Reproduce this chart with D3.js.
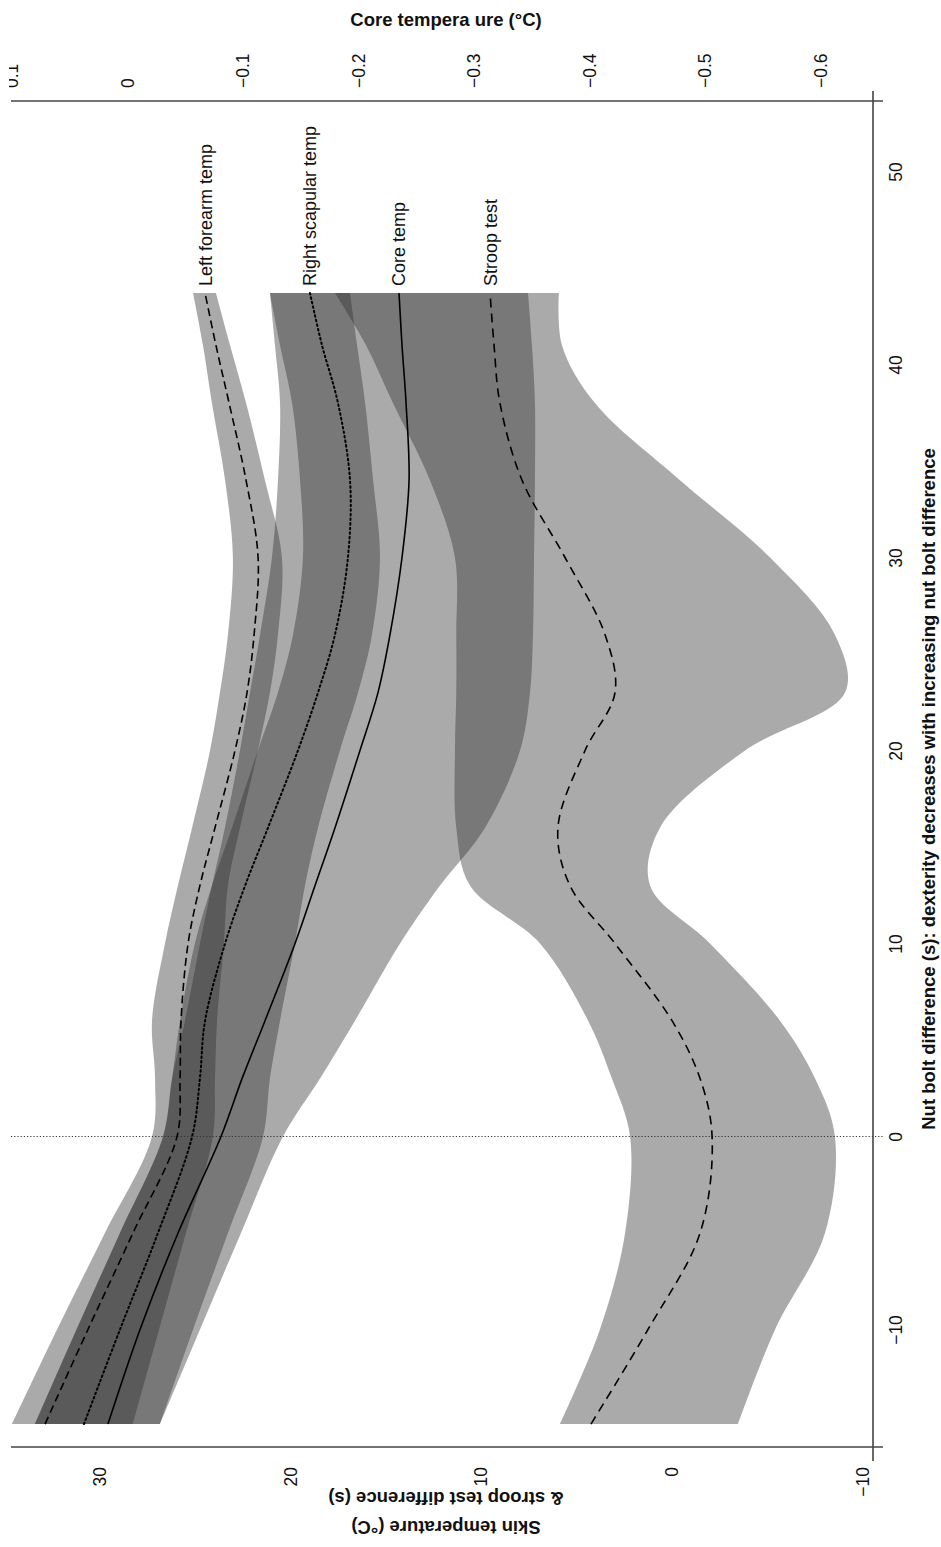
<!DOCTYPE html>
<html>
<head>
<meta charset="utf-8">
<script src="https://cdn.jsdelivr.net/npm/d3@7"></script>
<style>
  body { margin: 0; background: #fff; }
  svg { display: block; }
  text { font-family: "Liberation Sans", Arial, sans-serif; fill: #111; }
</style>
</head>
<body>
<svg id="chart" width="941" height="1547"></svg>
<script>
// Nut bolt difference (s) at which each smoothed curve is evaluated
const nutBolt = [-14.9, -10, -5, 0, 3, 6, 10, 13, 16, 20, 23, 26, 30, 34, 38, 41, 43.7];

// Left forearm skin temperature (°C): fit and band
const forearmFit = [32.83, 30.58, 28.22, 25.91, 25.75, 25.70, 25.33, 24.71, 23.92, 22.87, 22.24, 21.87, 21.66, 22.29, 23.18, 23.87, 24.44];
const forearmHi  = [34.56, 32.20, 29.69, 27.22, 27.06, 27.22, 26.54, 25.86, 25.12, 24.18, 23.66, 23.24, 22.98, 23.39, 24.08, 24.55, 25.07];
const forearmLo  = [28.22, 26.85, 25.44, 24.03, 23.92, 23.81, 23.45, 23.24, 22.61, 21.67, 21.04, 20.62, 20.41, 21.30, 22.29, 23.13, 23.87];

// Right scapular skin temperature (°C): fit and band
const scapularFit = [30.79, 28.90, 26.91, 25.12, 24.71, 24.44, 23.39, 22.34, 21.14, 19.57, 18.52, 17.63, 16.95, 16.84, 17.47, 18.31, 18.94];
const scapularHi  = [33.35, 31.18, 28.90, 26.64, 26.17, 25.75, 24.97, 24.08, 23.03, 21.67, 20.62, 19.83, 19.31, 19.46, 19.88, 20.51, 21.04];
const scapularLo  = [26.80, 25.07, 23.24, 21.40, 21.04, 20.51, 19.73, 19.20, 18.52, 17.37, 16.42, 15.69, 15.27, 15.63, 16.05, 16.47, 16.84];

// Core temperature change (°C): fit and band
const coreFit = [0.0165, -0.0113, -0.0442, -0.0814, -0.0996, -0.1195, -0.1455, -0.1628, -0.1801, -0.2017, -0.2173, -0.2277, -0.2381, -0.2442, -0.2416, -0.2381, -0.2355];
const coreHi  = [0.0797, 0.0437, 0.0061, -0.0312, -0.0390, -0.0502, -0.0632, -0.0736, -0.0848, -0.0978, -0.1065, -0.1152, -0.1255, -0.1307, -0.1325, -0.1281, -0.1238];
const coreLo  = [-0.0286, -0.0632, -0.0987, -0.1351, -0.1671, -0.1974, -0.2364, -0.2710, -0.3100, -0.3403, -0.3489, -0.3515, -0.3524, -0.3532, -0.3532, -0.3506, -0.3472];

// Stroop test difference (s): fit and band
const stroopFit = [4.21, 1.22, -1.51, -2.14, -1.51, -0.04, 2.95, 5.31, 5.94, 4.52, 2.95, 3.47, 5.57, 7.82, 8.98, 9.29, 9.50];
const stroopHi  = [5.83, 3.74, 2.42, 2.16, 3.11, 4.36, 6.88, 10.55, 11.27, 11.34, 11.27, 11.27, 11.34, 12.65, 14.59, 16.00, 17.63];
const stroopLo  = [-3.50, -5.44, -8.06, -8.58, -7.54, -5.70, -2.03, 1.11, 0.59, -3.87, -9.11, -8.58, -5.18, -0.46, 4.00, 5.73, 5.89];

// Axis ticks
const nutTicks = [-10, 0, 10, 20, 30, 40, 50];
const skinTicks = [30, 20, 10, 0, -10];
const coreTicks = [0.1, 0, -0.1, -0.2, -0.3, -0.4, -0.5, -0.6];

const seriesLabels = ["Left forearm temp", "Right scapular temp", "Core temp", "Stroop test"];

const svg = d3.select("#chart");

// Plot frame (the figure is laid out turned a quarter turn: nut bolt runs upward)
const plot = { left: 11, right: 873, top: 101, bottom: 1447 };

const yNut  = d3.scaleLinear().domain([-10, 50]).range([1329.5, 171.5]);
const xSkin = d3.scaleLinear().domain([30, -10]).range([99, 862]);
const xCore = d3.scaleLinear().domain([0, -0.6]).range([127, 820]);

const series = [
  { name: seriesLabels[0], x: xSkin, fit: forearmFit,  hi: forearmHi,  lo: forearmLo,  dash: "8,4.5" },
  { name: seriesLabels[1], x: xSkin, fit: scapularFit, hi: scapularHi, lo: scapularLo, dash: "1.6,3" },
  { name: seriesLabels[2], x: xCore, fit: coreFit,     hi: coreHi,     lo: coreLo,     dash: null },
  { name: seriesLabels[3], x: xSkin, fit: stroopFit,   hi: stroopHi,   lo: stroopLo,   dash: "9,6" }
];

const curve = d3.curveCatmullRom.alpha(0.5);

// Confidence bands
const bands = svg.append("g");
series.forEach(s => {
  const area = d3.area()
    .y((d, i) => yNut(nutBolt[i]))
    .x0((d, i) => s.x(s.hi[i]))
    .x1((d, i) => s.x(s.lo[i]))
    .curve(curve);
  bands.append("path")
    .datum(nutBolt)
    .attr("d", area)
    .attr("fill", "#303030")
    .attr("fill-opacity", 0.41);
});

// Reference line at zero nut bolt difference
svg.append("line")
  .attr("x1", plot.left).attr("x2", plot.right + 10)
  .attr("y1", yNut(0)).attr("y2", yNut(0))
  .attr("stroke", "#333").attr("stroke-width", 1)
  .attr("stroke-dasharray", "1.2,2");

// Fitted curves
const lines = svg.append("g");
series.forEach(s => {
  const line = d3.line()
    .y((d, i) => yNut(nutBolt[i]))
    .x((d, i) => s.x(s.fit[i]))
    .curve(curve);
  lines.append("path")
    .datum(nutBolt)
    .attr("d", line)
    .attr("fill", "none")
    .attr("stroke", "#000")
    .attr("stroke-width", s.dash === "1.6,3" ? 2 : 1.6)
    .attr("stroke-linecap", s.dash === "1.6,3" ? "round" : "butt")
    .attr("stroke-dasharray", s.dash);
});

// Curve labels at the upper end of each line
const last = nutBolt.length - 1;
series.forEach(s => {
  const x = s.x(s.fit[last]);
  const y = yNut(nutBolt[last]) - 7;
  svg.append("text")
    .attr("transform", `translate(${x},${y}) rotate(-90)`)
    .attr("dy", "0.36em")
    .attr("font-size", 18)
    .text(s.name);
});

// Axes
const axisColor = "#444";
const tickFont = 17.5;

// Core temperature axis (top)
svg.append("clipPath").attr("id", "topclip")
  .append("rect").attr("x", 9).attr("y", -plot.top).attr("width", 932).attr("height", plot.top);
const topAxis = svg.append("g").attr("transform", `translate(0,${plot.top})`)
  .attr("clip-path", "url(#topclip)")
  .call(d3.axisTop(xCore).tickValues(coreTicks).tickSize(0)
    .tickFormat(v => v === 0 ? "0" : d3.format(".1f")(v)));
topAxis.select(".domain").remove();
topAxis.selectAll(".tick text")
  .attr("font-size", tickFont)
  .attr("font-family", "Liberation Sans, Arial, sans-serif")
  .attr("fill", "#111")
  .attr("text-anchor", "start")
  .attr("transform", "rotate(-90)")
  .attr("x", 13).attr("y", 0).attr("dy", "0.36em");
svg.append("line")
  .attr("x1", plot.left).attr("x2", plot.right + 10)
  .attr("y1", plot.top).attr("y2", plot.top)
  .attr("stroke", axisColor).attr("stroke-width", 1.6);

// Skin temperature & stroop axis (bottom)
const botAxis = svg.append("g").attr("transform", `translate(0,${plot.bottom})`)
  .call(d3.axisBottom(xSkin).tickValues(skinTicks).tickSize(0));
botAxis.select(".domain").remove();
botAxis.selectAll(".tick text")
  .attr("font-size", tickFont)
  .attr("font-family", "Liberation Sans, Arial, sans-serif")
  .attr("fill", "#111")
  .attr("text-anchor", "end")
  .attr("transform", "rotate(-90)")
  .attr("x", -20).attr("y", 0).attr("dy", "0.36em");
svg.append("line")
  .attr("x1", plot.left).attr("x2", plot.right + 10)
  .attr("y1", plot.bottom).attr("y2", plot.bottom)
  .attr("stroke", axisColor).attr("stroke-width", 1.6);

// Nut bolt difference axis (right)
const rightAxis = svg.append("g").attr("transform", `translate(${plot.right},0)`)
  .call(d3.axisRight(yNut).tickValues(nutTicks).tickSize(0));
rightAxis.select(".domain").remove();
rightAxis.selectAll(".tick text")
  .attr("font-size", tickFont)
  .attr("font-family", "Liberation Sans, Arial, sans-serif")
  .attr("fill", "#111")
  .attr("text-anchor", "middle")
  .attr("transform", "rotate(-90)")
  .attr("x", 0).attr("y", 23).attr("dy", "0.36em");
svg.append("line")
  .attr("x1", plot.right).attr("x2", plot.right)
  .attr("y1", plot.top - 10).attr("y2", plot.bottom + 14)
  .attr("stroke", axisColor).attr("stroke-width", 1.6);

// Axis titles
svg.append("text")
  .attr("x", 446).attr("y", 26)
  .attr("text-anchor", "middle")
  .attr("font-size", 18.5).attr("font-weight", "bold")
  .text("Core tempera ure (°C)");

svg.append("text")
  .attr("transform", `translate(928,${(plot.top + plot.bottom) / 2 + 15}) rotate(-90)`)
  .attr("text-anchor", "middle")
  .attr("dy", "0.36em")
  .attr("font-size", 18.5).attr("font-weight", "bold")
  .text("Nut bolt difference (s): dexterity decreases with increasing nut bolt difference");

const leftTitle = svg.append("text")
  .attr("transform", `translate(446,1512) rotate(180)`)
  .attr("text-anchor", "middle")
  .attr("font-size", 18.5).attr("font-weight", "bold");
leftTitle.append("tspan").attr("x", 0).attr("dy", "-0.5em").text("Skin temperature (°C)");
leftTitle.append("tspan").attr("x", 0).attr("dy", "1.6em").text("& stroop test difference (s)");
</script>
</body>
</html>
